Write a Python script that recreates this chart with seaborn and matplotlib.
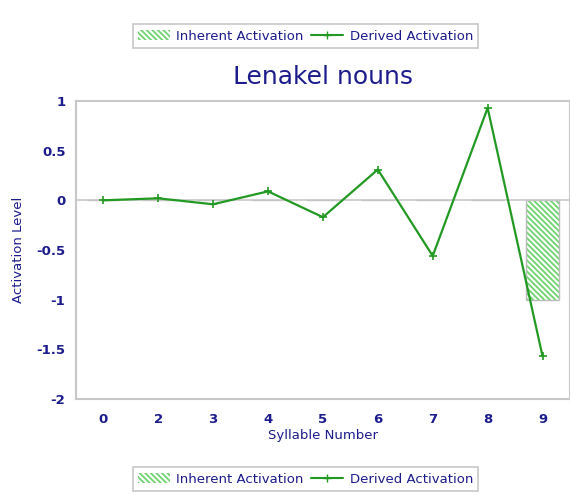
import matplotlib
matplotlib.use("Agg")
import matplotlib.pyplot as plt
from matplotlib.patches import Patch
from matplotlib.lines import Line2D
import pandas as pd
import seaborn as sns

# chart data
syllables = ["0", "2", "3", "4", "5", "6", "7", "8", "9"]
derived = [0.0, 0.02, -0.04, 0.09, -0.17, 0.31, -0.56, 0.93, -1.57]
inherent = [0, 0, 0, 0, 0, 0, 0, 0, -1.0]
y_ticks = [1, 0.5, 0, -0.5, -1, -1.5, -2]
y_tick_labels = ["1", "0.5", "0", "-0.5", "-1", "-1.5", "-2"]

NAVY = "#1c1c8c"
GREEN = "#229922"
HATCH_GREEN = "#6fd36f"
GRID_GRAY = "#c8c8c8"

sns.set_style("white")
plt.rcParams["font.family"] = ["DejaVu Sans"]
plt.rcParams["hatch.linewidth"] = 1.3

df = pd.DataFrame({"syllable": syllables, "derived": derived, "inherent": inherent})

fig = plt.figure(figsize=(5.7, 4.95), dpi=100)
ax = fig.add_axes([0.133, 0.194, 0.867, 0.602])

# inherent activation bars (hatched), then a thin outline on top
sns.barplot(data=df, x="syllable", y="inherent", ax=ax, color="white",
            width=0.6, edgecolor=HATCH_GREEN, linewidth=0, hatch="\\\\\\\\\\\\",
            errorbar=None, saturation=1)
sns.barplot(data=df, x="syllable", y="inherent", ax=ax, fill=False,
            width=0.6, edgecolor="#bbbbbb", linewidth=1.0, errorbar=None)

ax.axhline(0, color=GRID_GRAY, lw=1.2, zorder=1)

sns.pointplot(data=df, x="syllable", y="derived", ax=ax, color=GREEN,
              markers="+", markersize=6, linewidth=1.6, errorbar=None)

ax.set_xlim(-0.5, 8.5)
ax.set_ylim(-2, 1)
ax.set_yticks(y_ticks)
ax.set_yticklabels(y_tick_labels)

for side in ["top", "bottom", "left", "right"]:
    ax.spines[side].set_color(GRID_GRAY)
    ax.spines[side].set_linewidth(1.5)

ax.tick_params(axis="both", colors=GRID_GRAY, labelcolor=NAVY, length=4,
               width=1.2, labelsize=9.5, direction="out")
ax.tick_params(axis="x", pad=6)
for lbl in ax.get_xticklabels() + ax.get_yticklabels():
    lbl.set_fontweight("bold")

ax.set_xlabel("Syllable Number", color=NAVY, fontsize=9.5, labelpad=2)
ax.set_ylabel("Activation Level", color=NAVY, fontsize=9.5, labelpad=8)
ax.set_title("Lenakel nouns", color=NAVY, fontsize=18, pad=12)

handles = [
    Patch(facecolor="white", edgecolor=HATCH_GREEN, hatch="\\\\\\\\\\\\", lw=0),
    Line2D([0], [0], color=GREEN, marker="+", markersize=6, lw=1.5),
]
labels = ["Inherent Activation", "Derived Activation"]
for ypos in (0.927, 0.032):
    leg = fig.legend(handles, labels, loc="center", bbox_to_anchor=(0.536, ypos),
                     ncol=2, frameon=True, fancybox=False, fontsize=9.5,
                     handlelength=2.4, columnspacing=0.6, handletextpad=0.5,
                     borderpad=0.4, labelcolor=NAVY)
    leg.get_frame().set_edgecolor("#bbbbbb")
    leg.get_frame().set_linewidth(1.2)

fig.savefig("out.png", dpi=100)
